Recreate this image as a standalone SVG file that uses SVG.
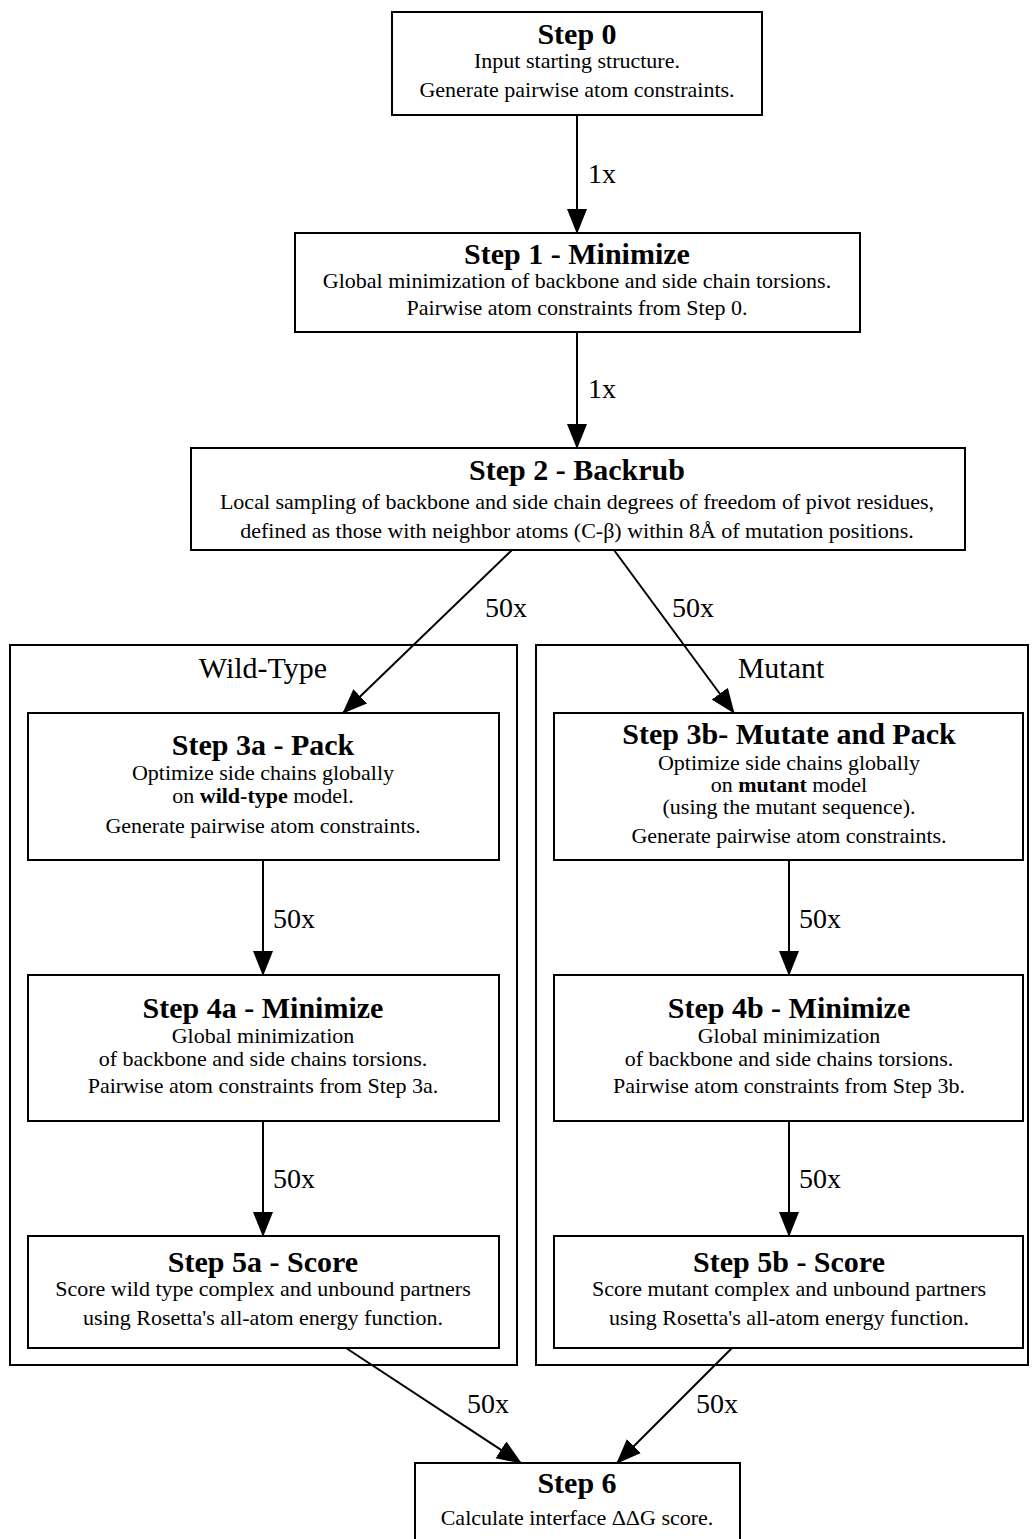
<svg xmlns="http://www.w3.org/2000/svg" width="1034" height="1539" viewBox="0 0 1034 1539">
<style>
text{font-family:"Liberation Serif","Times New Roman",serif;fill:#000;text-anchor:middle}
.t{font-size:30px;font-weight:bold}
.b{font-size:22px}
.e{font-size:28px;text-anchor:start}
.c{font-size:30px}
.box{fill:#fff;stroke:#000;stroke-width:2}
.cl{fill:none;stroke:#000;stroke-width:2}
.ed{fill:none;stroke:#000;stroke-width:2;marker-end:url(#ah)}
</style>
<defs>
<marker id="ah" markerUnits="userSpaceOnUse" markerWidth="26" markerHeight="22" refX="24" refY="10" orient="auto" viewBox="0 0 26 22">
<path d="M0,0 L25,10 L0,20 z" fill="#000"/>
</marker>
</defs>
<rect width="1034" height="1539" fill="#fff"/>
<g id="clusters">
<g id="cluster_wt">
<rect class="cl" x="10" y="645" width="507" height="720"/>
<text class="c" x="263" y="678">Wild-Type</text>
</g>
<g id="cluster_mut">
<rect class="cl" x="536" y="645" width="492" height="720"/>
<text class="c" x="781" y="678">Mutant</text>
</g>
</g>
<g id="connectors">
<path class="ed" d="M577,115 L577,233"/>
<text class="e" x="588" y="183">1x</text>
<path class="ed" d="M577,332 L577,448"/>
<text class="e" x="588" y="398">1x</text>
<path class="ed" d="M512,550 L343,713"/>
<text class="e" x="485" y="617">50x</text>
<path class="ed" d="M614,550 L734,713"/>
<text class="e" x="672" y="617">50x</text>
<path class="ed" d="M263,860 L263,975"/>
<text class="e" x="273" y="928">50x</text>
<path class="ed" d="M789,860 L789,975"/>
<text class="e" x="799" y="928">50x</text>
<path class="ed" d="M263,1121 L263,1236"/>
<text class="e" x="273" y="1188">50x</text>
<path class="ed" d="M789,1121 L789,1236"/>
<text class="e" x="799" y="1188">50x</text>
<path class="ed" d="M346,1348 L521,1463"/>
<text class="e" x="467" y="1413">50x</text>
<path class="ed" d="M732,1348 L617,1463"/>
<text class="e" x="696" y="1413">50x</text>
</g>
<g id="step0">
<rect class="box" x="392" y="12" width="370" height="103"/>
<text class="t" x="577" y="44">Step 0</text>
<text class="b" x="577" y="68">Input starting structure.</text>
<text class="b" x="577" y="97">Generate pairwise atom constraints.</text>
</g>
<g id="step1">
<rect class="box" x="295" y="233" width="565" height="99"/>
<text class="t" x="577" y="264">Step 1 - Minimize</text>
<text class="b" x="577" y="288">Global minimization of backbone and side chain torsions.</text>
<text class="b" x="577" y="315">Pairwise atom constraints from Step 0.</text>
</g>
<g id="step2">
<rect class="box" x="191" y="448" width="774" height="102"/>
<text class="t" x="577" y="480">Step 2 - Backrub</text>
<text class="b" x="577" y="509">Local sampling of backbone and side chain degrees of freedom of pivot residues,</text>
<text class="b" x="577" y="538">defined as those with neighbor atoms (C-β) within 8Å of mutation positions.</text>
</g>
<g id="step3a">
<rect class="box" x="28" y="713" width="471" height="147"/>
<text class="t" x="263" y="755">Step 3a - Pack</text>
<text class="b" x="263" y="780">Optimize side chains globally</text>
<text class="b" x="263" y="803">on <tspan font-weight="bold">wild-type</tspan> model.</text>
<text class="b" x="263" y="833">Generate pairwise atom constraints.</text>
</g>
<g id="step3b">
<rect class="box" x="554" y="713" width="469" height="147"/>
<text class="t" x="789" y="744">Step 3b- Mutate and Pack</text>
<text class="b" x="789" y="770">Optimize side chains globally</text>
<text class="b" x="789" y="792">on <tspan font-weight="bold">mutant</tspan> model</text>
<text class="b" x="789" y="814">(using the mutant sequence).</text>
<text class="b" x="789" y="843">Generate pairwise atom constraints.</text>
</g>
<g id="step4a">
<rect class="box" x="28" y="975" width="471" height="146"/>
<text class="t" x="263" y="1018">Step 4a - Minimize</text>
<text class="b" x="263" y="1043">Global minimization</text>
<text class="b" x="263" y="1066">of backbone and side chains torsions.</text>
<text class="b" x="263" y="1093">Pairwise atom constraints from Step 3a.</text>
</g>
<g id="step4b">
<rect class="box" x="554" y="975" width="469" height="146"/>
<text class="t" x="789" y="1018">Step 4b - Minimize</text>
<text class="b" x="789" y="1043">Global minimization</text>
<text class="b" x="789" y="1066">of backbone and side chains torsions.</text>
<text class="b" x="789" y="1093">Pairwise atom constraints from Step 3b.</text>
</g>
<g id="step5a">
<rect class="box" x="28" y="1236" width="471" height="112"/>
<text class="t" x="263" y="1272">Step 5a - Score</text>
<text class="b" x="263" y="1296">Score wild type complex and unbound partners</text>
<text class="b" x="263" y="1325">using Rosetta's all-atom energy function.</text>
</g>
<g id="step5b">
<rect class="box" x="554" y="1236" width="469" height="112"/>
<text class="t" x="789" y="1272">Step 5b - Score</text>
<text class="b" x="789" y="1296">Score mutant complex and unbound partners</text>
<text class="b" x="789" y="1325">using Rosetta's all-atom energy function.</text>
</g>
<g id="step6">
<rect class="box" x="415" y="1463" width="325" height="86"/>
<text class="t" x="577" y="1493">Step 6</text>
<text class="b" x="577" y="1525">Calculate interface ΔΔG score.</text>
</g>
</svg>
